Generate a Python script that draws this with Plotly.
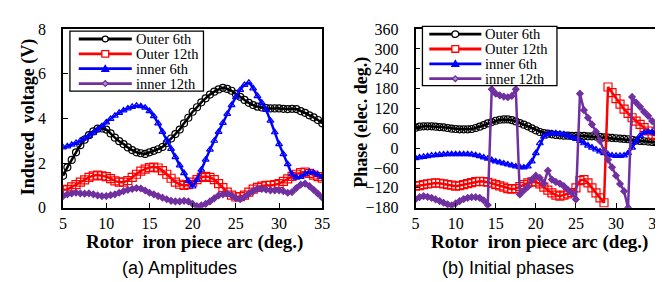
import numpy as np
import plotly.graph_objects as go

W, H = 663, 282

# x positions: rotor iron piece arc (deg.), 5..35 in 0.5 steps
arc = np.arange(5, 35.01, 0.5)

series_names = ["Outer 6th", "Outer 12th", "inner 6th", "inner 12th"]

# (a) Amplitudes (V)
amp_outer6 = [1.43, 1.81, 2.14, 2.48, 2.8, 3.05, 3.25, 3.42, 3.54, 3.55, 3.5, 3.33, 3.14, 2.98, 2.85, 2.7,
              2.58, 2.48, 2.44, 2.41, 2.48, 2.55, 2.62, 2.72, 2.9, 3.1, 3.3, 3.5, 3.78, 4.03, 4.3, 4.5,
              4.72, 4.9, 5.07, 5.2, 5.3, 5.37, 5.32, 5.24, 5.1, 4.97, 4.83, 4.7, 4.6, 4.53, 4.49, 4.46,
              4.45, 4.45, 4.45, 4.43, 4.42, 4.43, 4.42, 4.33, 4.25, 4.14, 4.05, 3.93, 3.78]
amp_outer12 = [0.8, 0.82, 0.93, 1.03, 1.15, 1.25, 1.36, 1.43, 1.46, 1.43, 1.39, 1.3, 1.2, 1.15, 1.15, 1.22,
               1.36, 1.5, 1.64, 1.73, 1.8, 1.82, 1.78, 1.66, 1.5, 1.32, 1.15, 1.05, 1.0, 1.03, 1.15, 1.26,
               1.36, 1.4, 1.36, 1.26, 1.08, 0.9, 0.7, 0.56, 0.48, 0.5, 0.56, 0.7, 0.83, 0.91, 0.97, 1.0,
               1.0, 1.03, 1.08, 1.18, 1.29, 1.4, 1.5, 1.57, 1.6, 1.54, 1.46, 1.39, 1.32]
amp_inner6 = [2.7, 2.75, 2.82, 2.9, 3.0, 3.1, 3.22, 3.35, 3.5, 3.65, 3.82, 3.98, 4.12, 4.25, 4.36, 4.45,
              4.52, 4.57, 4.55, 4.48, 4.33, 4.1, 3.78, 3.4, 3.02, 2.64, 2.27, 1.9, 1.55, 1.2, 0.95, 1.25,
              1.7, 2.15, 2.6, 3.0, 3.4, 3.8, 4.2, 4.6, 4.95, 5.28, 5.5, 5.6, 5.35, 5.0, 4.7, 4.38,
              3.9, 3.38, 2.85, 2.4, 1.95, 1.5, 1.35, 1.38, 1.5, 1.6, 1.57, 1.48, 1.38]
amp_inner12 = [0.52, 0.6, 0.64, 0.67, 0.64, 0.63, 0.64, 0.6, 0.55, 0.52, 0.52, 0.56, 0.6, 0.67, 0.74, 0.8,
               0.84, 0.88, 0.86, 0.77, 0.67, 0.6, 0.52, 0.45, 0.38, 0.31, 0.28, 0.28, 0.31, 0.28, 0.17, 0.07,
               0.1, 0.17, 0.28, 0.42, 0.55, 0.6, 0.63, 0.56, 0.42, 0.38, 0.48, 0.63, 0.74, 0.84, 0.84, 0.81,
               0.78, 0.78, 0.78, 0.74, 0.67, 0.7, 0.88, 1.03, 1.08, 0.97, 0.8, 0.63, 0.45]

# (b) Initial phases (elec. deg.)
ph_outer6 = [62, 65, 66, 66, 66, 65, 64, 63, 61, 59, 58, 57, 57, 57, 58, 61,
             65, 70, 75, 79, 83, 86, 87, 87, 85, 81, 76, 71, 66, 60, 54, 49,
             46, 44, 42, 40, 39, 38, 38, 37, 37, 37, 37, 36, 36, 35, 34, 33,
             32, 31, 30, 29, 28, 27, 25, 23, 22, 21, 20, 19, 18]
ph_outer12 = [-115, -113, -110, -108, -106, -105, -106, -108, -110, -112, -115, -113, -110, -107, -104, -101,
              -100, -101, -103, -106, -110, -114, -118, -122, -124, -122, -116, -110, -105, -102, -102, -108,
              -118, -127, -135, -142, -145, -142, -138, -134, -120, -98, -95, -105, -120, -135, -150, -165,
              185, 168, 150, 133, 118, 105, 92, 82, 72, 62, 52, 42, 38]
ph_inner6 = [-30, -28, -26, -24, -22, -21, -20, -19, -18, -18, -18, -18, -18, -18, -19, -21,
             -24, -28, -32, -36, -40, -43, -46, -49, -52, -55, -57, -58, -55, -40, -15, 15,
             35, 43, 45, 45, 44, 42, 38, 33, 28, 22, 15, 8, 2, -4, -10, -15,
             -19, -22, -23, -23, -22, -15, 2, 22, 38, 47, 50, 48, 45]
ph_inner12 = [-154, -148, -145, -147, -150, -155, -160, -165, -170, -173, -167, -160, -154, -150, -148, -148,
              -150, -158, -172, 178, 165, 160, 156, 154, 158, 178, -140, -128, -117, -95, -83, -90,
              -107, -68, -95, -102, -107, -115, -126, -136, -155, 165, 115, 92, 72, 50, 22, -8,
              -35, -58, -83, -108, -130, -180, 155, 138, 125, 110, 98, 82, 62]

amp_ticks = [0, 2, 4, 6, 8]
phase_ticks = [-180, -120, -60, 0, 60, 120, 180, 240, 300, 360]
arc_ticks = [5, 10, 15, 20, 25, 30, 35]

colors = ["#000000", "#FF0000", "#0000FF", "#7030A0"]
symbols = ["circle-open", "square-open", "triangle-up-open", "diamond"]
msizes = [7, 8, 6, 5]

SERIF = "Liberation Serif"
SANS = "Liberation Sans"


def px(x):
    return x / W


def py(y):
    return 1 - y / H


fig = go.Figure()

amp_data = [amp_outer6, amp_outer12, amp_inner6, amp_inner12]
ph_data = [ph_outer6, ph_outer12, ph_inner6, ph_inner12]

for i, name in enumerate(series_names):
    fig.add_trace(go.Scatter(
        x=arc, y=amp_data[i], name=name, mode="lines+markers",
        line=dict(color=colors[i], width=2.5, shape="spline", smoothing=0.6),
        marker=dict(symbol=symbols[i], size=msizes[i], color=colors[i],
                    line=dict(color=colors[i], width=1.2)),
        xaxis="x", yaxis="y", showlegend=False,
    ))
for i, name in enumerate(series_names):
    fig.add_trace(go.Scatter(
        x=arc, y=ph_data[i], name=name, mode="lines+markers",
        line=dict(color=colors[i], width=2.5),
        marker=dict(symbol=symbols[i], size=msizes[i], color=colors[i],
                    line=dict(color=colors[i], width=1.2)),
        xaxis="x2", yaxis="y2", showlegend=False,
    ))

axis_common = dict(
    showline=True, mirror=True, linecolor="black", linewidth=1.5,
    ticks="inside", ticklen=5, tickwidth=1, tickcolor="black",
    showgrid=False, zeroline=False,
    tickfont=dict(family=SERIF, size=16, color="black"),
)

fig.update_layout(
    width=W, height=H,
    margin=dict(l=0, r=0, t=0, b=0),
    paper_bgcolor="white", plot_bgcolor="white",
    xaxis=dict(domain=[px(52), px(316)], range=[5, 35], tickvals=arc_ticks,
               anchor="y", ticklabelstandoff=0, **axis_common),
    yaxis=dict(domain=[py(204), py(14)], range=[0, 8], tickvals=amp_ticks,
               anchor="x", ticklabelstandoff=12, **axis_common),
    xaxis2=dict(domain=[px(411), px(656)], range=[5, 35], tickvals=arc_ticks,
                anchor="y2", ticklabelstandoff=0, **axis_common),
    yaxis2=dict(domain=[py(204), py(14)], range=[-180, 360], tickvals=phase_ticks,
                anchor="x2", ticklabelstandoff=12, **axis_common),
    showlegend=False,
)

# ---- legends drawn as boxes with sample lines, glyphs and real text ----
shapes = []
annos = []


def glyph(kind, cx, cy, color, s):
    if kind == "circle":
        return dict(type="circle", xref="paper", yref="paper",
                    x0=px(cx - s), x1=px(cx + s), y0=py(cy + s), y1=py(cy - s),
                    line=dict(color=color, width=1.3), fillcolor="white")
    if kind == "square":
        return dict(type="rect", xref="paper", yref="paper",
                    x0=px(cx - s), x1=px(cx + s), y0=py(cy + s), y1=py(cy - s),
                    line=dict(color=color, width=1.3), fillcolor="white")
    if kind == "triangle":
        path = "M{},{} L{},{} L{},{} Z".format(px(cx), py(cy - s), px(cx - s), py(cy + s * 0.8),
                                             px(cx + s), py(cy + s * 0.8))
        return dict(type="path", xref="paper", yref="paper", path=path,
                    line=dict(color=color, width=1.3), fillcolor=color)
    path = "M{},{} L{},{} L{},{} L{},{} Z".format(px(cx), py(cy - s), px(cx + s), py(cy),
                                                 px(cx), py(cy + s), px(cx - s), py(cy))
    return dict(type="path", xref="paper", yref="paper", path=path,
                line=dict(color=color, width=1.3), fillcolor="#B090D0")


kinds = ["circle", "square", "triangle", "diamond"]
legend_specs = [
    # box (x0, y0, x1, y1), row centres, line x0, x1, text x
    dict(box=(59, 16, 195, 80), rows=[24.5, 40.3, 56.1, 71.9], lx=(68, 122), tx=125, gs=[3, 3.5, 3.5, 3]),
    dict(box=(418, 11, 555, 74), rows=[19.3, 35.1, 50.9, 66.7], lx=(425, 478), tx=481, gs=[3.5, 3.5, 3.5, 3]),
]
for spec in legend_specs:
    x0, y0, x1, y1 = spec["box"]
    shapes.append(dict(type="rect", xref="paper", yref="paper",
                       x0=px(x0), x1=px(x1), y0=py(y1), y1=py(y0),
                       line=dict(color="black", width=1.3), fillcolor="white", layer="above"))
    for i, name in enumerate(series_names):
        ry = spec["rows"][i]
        lx0, lx1 = spec["lx"]
        shapes.append(dict(type="line", xref="paper", yref="paper",
                           x0=px(lx0), x1=px(lx1), y0=py(ry), y1=py(ry),
                           line=dict(color=colors[i], width=2.8)))
        shapes.append(glyph(kinds[i], (lx0 + lx1) / 2, ry, colors[i], spec["gs"][i]))
        annos.append(dict(text=name, x=px(spec["tx"]), y=py(ry), xanchor="left", yanchor="middle",
                          borderpad=0, font=dict(family=SERIF, size=14.5, color="black")))

title_font = dict(family=SERIF, size=18, color="black")
xtitle_font = dict(family=SERIF, size=19, color="black")
annos += [
    dict(text="<b>Induced  voltage (V)</b>", x=px(17), y=py(107), textangle=-90, font=title_font),
    dict(text="<b>Phase (elec. deg.)</b>", x=px(356), y=py(113), textangle=-90, font=title_font),
    dict(text="<b>Rotor  iron piece arc (deg.)</b>", x=px(186), y=py(240), font=xtitle_font),
    dict(text="<b>Rotor  iron piece arc (deg.)</b>", x=px(537), y=py(240), font=xtitle_font),
    dict(text="(a) Amplitudes", x=px(171), y=py(268), font=dict(family=SANS, size=18, color="black")),
    dict(text="(b) Initial phases", x=px(505), y=py(268), font=dict(family=SANS, size=18, color="black")),
]
for a in annos:
    a.setdefault("xanchor", "center")
    a.setdefault("yanchor", "middle")
    fig.add_annotation(xref="paper", yref="paper", showarrow=False, **a)

fig.update_layout(shapes=shapes)

fig.write_html("out.html")
